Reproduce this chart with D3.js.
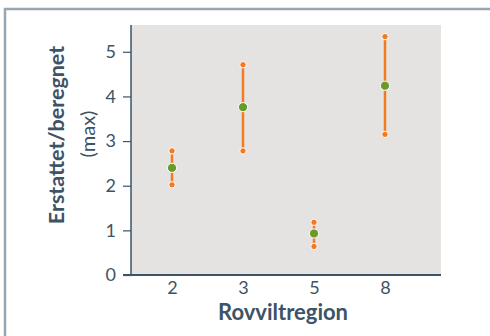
<!DOCTYPE html>
<html>
  <head>
    <meta charset="utf-8">
    <title>Rovviltregion</title>
    <style>
      body { margin: 0; background: #fff; }
      text { font-family: Lato, "Open Sans", sans-serif; fill: #3d5366; }
    </style>
  </head>
  <body>
    <div id="chart"></div>
    <script src="https://d3js.org/d3.v7.min.js"></script>
    <script>
      var regions = ["2", "3", "5", "8"];
      var lowVals  = [2.02, 2.78, 0.64, 3.15];
      var midVals  = [2.40, 3.76, 0.93, 4.24];
      var highVals = [2.78, 4.71, 1.18, 5.34];
      var yTicks   = [0, 1, 2, 3, 4, 5];

      var W = 490, H = 336;
      var pLeft = 131, pRight = 441, pTop = 25, pBottom = 275;
      var ink = "#3d5366", orange = "#f37a22", green = "#6b9a2c";

      var svg = d3.select("#chart").append("svg")
          .attr("width", W).attr("height", H);

      // outer frame
      svg.append("rect")
          .attr("x", 5).attr("y", 9)
          .attr("width", W + 10).attr("height", H + 10)
          .attr("fill", "none")
          .attr("stroke", "#98a5b3")
          .attr("stroke-width", 2.5);

      // plot background
      svg.append("rect")
          .attr("x", pLeft).attr("y", pTop)
          .attr("width", pRight - pLeft).attr("height", pBottom - pTop)
          .attr("fill", "#e5e3e1");

      var x = d3.scalePoint().domain(regions).range([172, 385]);
      var y = d3.scaleLinear().domain([0, 5.6]).range([pBottom, pTop]);

      var yAxis = d3.axisLeft(y).tickValues(yTicks).tickFormat(d3.format("d"))
          .tickSize(8).tickPadding(7);
      var gY = svg.append("g")
          .attr("transform", "translate(" + pLeft + ",0)")
          .call(yAxis);
      gY.select(".domain").attr("stroke", ink).attr("stroke-width", 1.5)
          .attr("d", "M0," + pTop + "V" + pBottom);
      gY.selectAll(".tick line").attr("stroke", ink).attr("stroke-width", 1.2);
      gY.selectAll(".tick text").style("font-size", "18px").attr("fill", ink)
          .style("font-family", "Lato, sans-serif");

      var xAxis = d3.axisBottom(x).tickSize(0).tickPadding(6);
      var gX = svg.append("g")
          .attr("transform", "translate(0," + pBottom + ")")
          .call(xAxis);
      gX.select(".domain").attr("stroke", ink).attr("stroke-width", 2)
          .attr("d", "M" + (pLeft - 8) + ",0H" + pRight);
      gX.selectAll(".tick text").style("font-size", "18px").attr("fill", ink)
          .style("font-family", "Lato, sans-serif");

      // axis titles
      svg.append("text")
          .attr("transform", "translate(64,135)rotate(-90)")
          .attr("text-anchor", "middle")
          .style("font-size", "21.5px").style("font-weight", "bold")
          .text("Erstattet/beregnet");
      svg.append("text")
          .attr("transform", "translate(95,134)rotate(-90)")
          .attr("text-anchor", "middle")
          .style("font-size", "20px")
          .text("(max)");
      svg.append("text")
          .attr("x", 283).attr("y", 320)
          .attr("text-anchor", "middle")
          .style("font-size", "22px").style("font-weight", "bold")
          .text("Rovviltregion");

      // range lines
      svg.selectAll(".range")
          .data(regions)
          .enter().append("line")
          .attr("x1", function(d) { return x(d); })
          .attr("x2", function(d) { return x(d); })
          .attr("y1", function(d, i) { return y(lowVals[i]); })
          .attr("y2", function(d, i) { return y(highVals[i]); })
          .attr("stroke", orange)
          .attr("stroke-width", 2.5);

      function dots(vals, r, col) {
        svg.selectAll(null)
            .data(regions)
            .enter().append("circle")
            .attr("cx", function(d) { return x(d); })
            .attr("cy", function(d, i) { return y(vals[i]); })
            .attr("r", r)
            .attr("fill", col)
            .attr("stroke", "#fff")
            .attr("stroke-width", 1);
      }
      dots(lowVals, 3.2, orange);
      dots(highVals, 3.2, orange);
      dots(midVals, 4.6, green);
    </script>
  </body>
</html>
